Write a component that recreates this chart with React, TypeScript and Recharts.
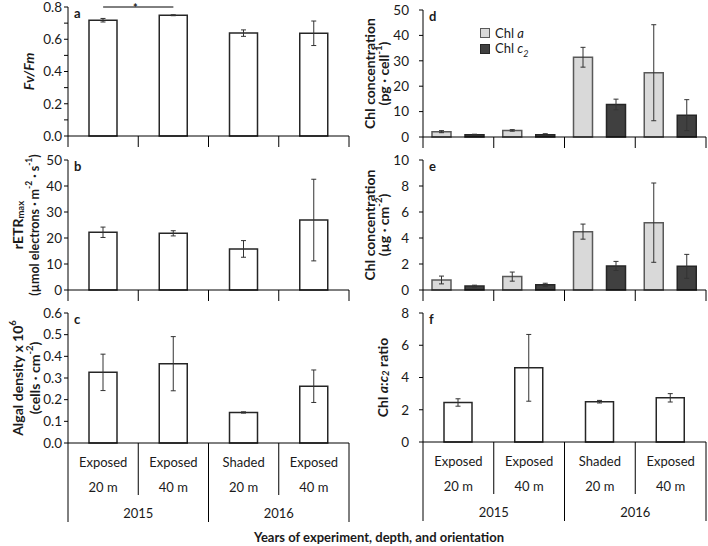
import React from "react";
import { BarChart, Bar, XAxis, YAxis, ErrorBar, ReferenceLine, Legend } from "recharts";

// ---------- data ----------
const categories = ["Exposed 20 m 2015", "Exposed 40 m 2015", "Shaded 20 m 2016", "Exposed 40 m 2016"];
const orientations = ["Exposed", "Exposed", "Shaded", "Exposed"];
const depths = ["20 m", "40 m", "20 m", "40 m"];
const years = ["2015", "2015", "2016", "2016"];

const fvfm = [0.718, 0.749, 0.638, 0.637];
const fvfmErr = [0.011, 0.003, 0.02, 0.076];
const retr = [22.2, 21.8, 15.8, 26.9];
const retrErr = [2.0, 1.0, 3.2, 15.7];
const density = [0.326, 0.366, 0.141, 0.262];
const densityErr = [0.084, 0.125, 0.003, 0.075];
const chlACell = [2.1, 2.6, 31.4, 25.3];
const chlACellErr = [0.4, 0.3, 3.9, 18.9];
const chlC2Cell = [0.9, 0.9, 12.8, 8.6];
const chlC2CellErr = [0.2, 0.4, 2.1, 6.1];
const chlAArea = [0.77, 1.03, 4.49, 5.18];
const chlAAreaErr = [0.3, 0.35, 0.58, 3.05];
const chlC2Area = [0.3, 0.4, 1.85, 1.82];
const chlC2AreaErr = [0.07, 0.12, 0.35, 0.92];
const ratio = [2.45, 4.6, 2.5, 2.74];
const ratioErr = [0.23, 2.07, 0.08, 0.26];

const ticksA = [0, 0.1, 0.2, 0.3, 0.4, 0.5, 0.6, 0.7, 0.8];
const ticksB = [0, 10, 20, 30, 40, 50];
const ticksC = [0, 0.1, 0.2, 0.3, 0.4, 0.5, 0.6];
const ticksD = [0, 10, 20, 30, 40, 50];
const ticksE = [0, 2, 4, 6, 8, 10];
const ticksF = [0, 2, 4, 6, 8];

const rows = categories.map((c, i) => ({
  cat: c,
  fvfm: fvfm[i], fvfmErr: fvfmErr[i],
  retr: retr[i], retrErr: retrErr[i],
  density: density[i], densityErr: densityErr[i],
  chlACell: chlACell[i], chlACellErr: chlACellErr[i],
  chlC2Cell: chlC2Cell[i], chlC2CellErr: chlC2CellErr[i],
  chlAArea: chlAArea[i], chlAAreaErr: chlAAreaErr[i],
  chlC2Area: chlC2Area[i], chlC2AreaErr: chlC2AreaErr[i],
  ratio: ratio[i], ratioErr: ratioErr[i],
}));

// ---------- style ----------
const FONT = "Lato, 'Open Sans', sans-serif";
const TXT = "#1a1a1a";
const LABEL_FS = 14;
const SUP_FS = 9.5;
const WHITE_BAR = { fill: "#ffffff", stroke: "#262626" };
const LIGHT_BAR = { fill: "#d9d9d9", stroke: "#595959" };
const DARK_BAR = { fill: "#404040", stroke: "#262626" };

const LEFT = { x: 0, w: 352, yw: 68, mr: 3 };
const RIGHT = { x: 352, w: 356, yw: 71, mr: 2 };
const bandOf = (s: typeof LEFT) => (s.w - s.yw - s.mr) / categories.length;

// ---------- axis renderers ----------
const yLabel = (lines: React.ReactNode[], xs: number[], letter: string, fss?: number[]) => (props: any) => {
  const vb = props.viewBox || {};
  const cy = vb.y + vb.height / 2;
  return (
    <g>
      {lines.map((l, i) => (
        <text
          key={i}
          x={vb.x + xs[i]}
          y={cy}
          transform={`rotate(-90 ${vb.x + xs[i]} ${cy})`}
          textAnchor="middle"
          dominantBaseline="central"
          fontWeight="bold"
          fontSize={fss ? fss[i] : LABEL_FS}
          fontFamily={FONT}
          fill={TXT}
        >
          {l}
        </text>
      ))}
      <text x={vb.x + vb.width + 6} y={vb.y + 11} fontWeight="bold" fontSize={13} fontFamily={FONT} fill={TXT}>
        {letter}
      </text>
    </g>
  );
};

const sepTick = (band: number) => (props: any) => {
  const { x, y, index } = props;
  return (
    <g>
      <line x1={x - band / 2} y1={y} x2={x - band / 2} y2={y + 11} stroke="#000" strokeWidth={1} />
      {index === categories.length - 1 && (
        <line x1={x + band / 2} y1={y} x2={x + band / 2} y2={y + 11} stroke="#000" strokeWidth={1} />
      )}
    </g>
  );
};

const bottomTick = (band: number) => (props: any) => {
  const { x, y, index } = props;
  const left = x - band / 2;
  const right = x + band / 2;
  const firstOfYear = index === 0 || years[index] !== years[index - 1];
  const t = { textAnchor: "middle" as const, dominantBaseline: "central" as const, fontSize: 13, fontFamily: FONT, fill: TXT };
  return (
    <g>
      <line x1={left} y1={y} x2={left} y2={y + (firstOfYear ? 79 : 52)} stroke="#000" strokeWidth={1} />
      {index === categories.length - 1 && <line x1={right} y1={y} x2={right} y2={y + 79} stroke="#000" strokeWidth={1} />}
      <text x={x} y={y + 19} {...t}>{orientations[index]}</text>
      <text x={x} y={y + 44} {...t}>{depths[index]}</text>
      {firstOfYear && <text x={right} y={y + 70} {...t}>{years[index]}</text>}
    </g>
  );
};

const chlName = (v: string) =>
  v === "Chl a" ? (
    <span>Chl <i>a</i></span>
  ) : (
    <span>Chl <i>c</i><sub style={{ fontSize: 9, fontStyle: "italic" }}>2</sub></span>
  );

const legendContent = (props: any) => (
  <div style={{ fontFamily: FONT, fontSize: 13, color: TXT }}>
    {(props.payload || []).map((e: any, i: number) => (
      <div key={i} style={{ display: "flex", alignItems: "center", height: 16 }}>
        <span
          style={{
            display: "inline-block",
            width: 8,
            height: 8,
            background: e.color,
            border: `1px solid ${i === 0 ? LIGHT_BAR.stroke : DARK_BAR.stroke}`,
            marginRight: 5,
          }}
        />
        {chlName(e.value)}
      </div>
    ))}
  </div>
);

// ---------- panel ----------
type BarDef = { key: string; err: string; style: { fill: string; stroke: string }; name?: string; size: number };

function Panel(p: {
  side: typeof LEFT;
  top: number;
  mt: number;
  plotH: number;
  xH: number;
  domain: [number, number];
  ticks: number[];
  fmt?: (v: number) => string;
  tickMargin: number;
  label: (props: any) => React.ReactNode;
  bars: BarDef[];
  bottom?: boolean;
  legend?: boolean;
  extra?: React.ReactNode;
}) {
  const band = bandOf(p.side);
  const H = p.mt + p.plotH + p.xH;
  return (
    <div style={{ position: "absolute", left: p.side.x, top: p.top }}>
      <BarChart
        width={p.side.w}
        height={H}
        data={rows}
        margin={{ top: p.mt, right: p.side.mr, bottom: 0, left: 0 }}
        barGap={14}
        barCategoryGap="20%"
      >
        <XAxis
          dataKey="cat"
          height={p.xH}
          interval={0}
          tickSize={0}
          tickMargin={0}
          tickLine={false}
          axisLine={{ stroke: "#000", strokeWidth: 1 }}
          tick={p.bottom ? bottomTick(band) : sepTick(band)}
        />
        <YAxis
          width={p.side.yw}
          domain={p.domain}
          ticks={p.ticks}
          interval={0}
          tickSize={4}
          tickMargin={p.tickMargin}
          tickFormatter={p.fmt}
          axisLine={{ stroke: "#000", strokeWidth: 1 }}
          tickLine={{ stroke: "#000", strokeWidth: 1 }}
          tick={{ fontSize: 13.5, fill: TXT, fontFamily: FONT }}
          label={{ content: p.label }}
        />
        {p.legend && (
          <Legend
            layout="vertical"
            align="center"
            verticalAlign="middle"
            content={legendContent}
            wrapperStyle={{ left: 128, top: 25, width: 90, height: 34 }}
          />
        )}
        {p.bars.map((b) => (
          <Bar
            key={b.key}
            dataKey={b.key}
            name={b.name}
            fill={b.style.fill}
            stroke={b.style.stroke}
            strokeWidth={1.5}
            barSize={b.size}
            isAnimationActive={false}
          >
            <ErrorBar dataKey={b.err} width={2.5} stroke="#333333" strokeWidth={1} direction="y" />
          </Bar>
        ))}
        {p.extra}
      </BarChart>
    </div>
  );
}

const starLabel = (props: any) => {
  const vb = props.viewBox || {};
  const x1 = vb.x1 !== undefined ? vb.x1 : vb.x;
  const x2 = vb.x2 !== undefined ? vb.x2 : vb.x + (vb.width || 0);
  const y = vb.y1 !== undefined ? vb.y1 : vb.y;
  return (
    <text x={(x1 + x2) / 2 - 3} y={y + 5} textAnchor="middle" fontSize={11} fontWeight="bold" fontFamily={FONT} fill={TXT}>
      *
    </text>
  );
};

export default function App() {
  const fmtA = (v: number) => (Math.round(v * 10) % 2 === 0 ? v.toFixed(1) : "");
  const fmt1 = (v: number) => v.toFixed(1);
  const fmt0 = (v: number) => String(v);
  const sp = (s: string) => (
    <>
      <tspan dy={-5} fontSize={SUP_FS}>{s}</tspan>
    </>
  );
  return (
    <div style={{ position: "absolute", left: 0, top: 0, width: 708, height: 546, background: "#fff", overflow: "hidden" }}>
      {/* a */}
      <Panel
        side={LEFT}
        top={0}
        mt={7}
        plotH={129}
        xH={12}
        domain={[0, 0.8]}
        ticks={ticksA}
        fmt={fmtA}
        tickMargin={2}
        label={yLabel([<tspan fontStyle="italic">Fv/Fm</tspan>], [28], "a")}
        bars={[{ key: "fvfm", err: "fvfmErr", style: WHITE_BAR, size: 28 }]}
        extra={
          <ReferenceLine
            segment={[
              { x: categories[0], y: 0.8 },
              { x: categories[1], y: 0.8 },
            ]}
            stroke="#000"
            strokeWidth={1}
            ifOverflow="visible"
            label={{ content: starLabel }}
          />
        }
      />
      {/* b */}
      <Panel
        side={LEFT}
        top={148}
        mt={12}
        plotH={130}
        xH={12}
        domain={[0, 50]}
        ticks={ticksB}
        fmt={fmt0}
        tickMargin={2}
        label={yLabel(
          [
            <>
              <tspan>rETR</tspan>
              <tspan dy={3} fontSize={SUP_FS}>max</tspan>
            </>,
            <>
              <tspan>(µmol electrons · m</tspan>
              <tspan dy={-5} fontSize={8.5}>-2</tspan>
              <tspan dy={5}> · s</tspan>
              <tspan dy={-5} fontSize={8.5}>-1</tspan>
              <tspan dy={5}>)</tspan>
            </>,
          ],
          [17, 34],
          "b",
          [14, 12.5]
        )}
        bars={[{ key: "retr", err: "retrErr", style: WHITE_BAR, size: 28 }]}
      />
      {/* c */}
      <Panel
        side={LEFT}
        top={302}
        mt={11}
        plotH={130}
        xH={90}
        domain={[0, 0.6]}
        ticks={ticksC}
        fmt={fmt1}
        tickMargin={2}
        bottom
        label={yLabel(
          [
            <>
              <tspan>Algal density x 10</tspan>
              {sp("6")}
            </>,
            <>
              <tspan>(cells · cm</tspan>
              {sp("-2")}
              <tspan dy={5}>)</tspan>
            </>,
          ],
          [17, 34],
          "c"
        )}
        bars={[{ key: "density", err: "densityErr", style: WHITE_BAR, size: 28 }]}
      />
      {/* d */}
      <Panel
        side={RIGHT}
        top={0}
        mt={10}
        plotH={127}
        xH={12}
        domain={[0, 50]}
        ticks={ticksD}
        fmt={fmt0}
        tickMargin={10}
        legend
        label={yLabel(
          [
            <tspan>Chl concentration</tspan>,
            <>
              <tspan>(pg · cell</tspan>
              {sp("-1")}
              <tspan dy={5}>)</tspan>
            </>,
          ],
          [17, 31],
          "d"
        )}
        bars={[
          { key: "chlACell", err: "chlACellErr", style: LIGHT_BAR, name: "Chl a", size: 19 },
          { key: "chlC2Cell", err: "chlC2CellErr", style: DARK_BAR, name: "Chl c2", size: 19 },
        ]}
      />
      {/* e */}
      <Panel
        side={RIGHT}
        top={149}
        mt={11}
        plotH={130}
        xH={12}
        domain={[0, 10]}
        ticks={ticksE}
        fmt={fmt0}
        tickMargin={10}
        label={yLabel(
          [
            <tspan>Chl concentration</tspan>,
            <>
              <tspan>(µg · cm</tspan>
              {sp("-2")}
              <tspan dy={5}>)</tspan>
            </>,
          ],
          [17, 31],
          "e"
        )}
        bars={[
          { key: "chlAArea", err: "chlAAreaErr", style: LIGHT_BAR, name: "Chl a", size: 19 },
          { key: "chlC2Area", err: "chlC2AreaErr", style: DARK_BAR, name: "Chl c2", size: 19 },
        ]}
      />
      {/* f */}
      <Panel
        side={RIGHT}
        top={302}
        mt={11}
        plotH={129}
        xH={90}
        domain={[0, 8]}
        ticks={ticksF}
        fmt={fmt0}
        tickMargin={10}
        bottom
        label={yLabel(
          [
            <>
              <tspan>Chl </tspan>
              <tspan fontStyle="italic">a</tspan>
              <tspan>:</tspan>
              <tspan fontStyle="italic">c</tspan>
              <tspan dy={3} fontSize={SUP_FS} fontStyle="italic">2</tspan>
              <tspan dy={-3}> ratio</tspan>
            </>,
          ],
          [30],
          "f"
        )}
        bars={[{ key: "ratio", err: "ratioErr", style: WHITE_BAR, size: 28 }]}
      />
      <div
        style={{
          position: "absolute",
          left: 379,
          top: 529,
          transform: "translateX(-50%)",
          whiteSpace: "nowrap",
          fontFamily: FONT,
          fontWeight: "bold",
          fontSize: 13,
          color: TXT,
          lineHeight: "16px",
        }}
      >
        Years of experiment, depth, and orientation
      </div>
    </div>
  );
}
